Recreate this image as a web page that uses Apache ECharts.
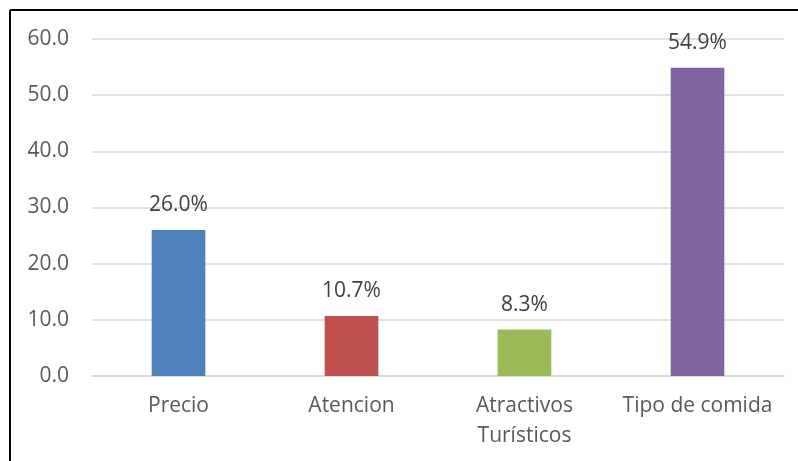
<!DOCTYPE html>
<html>
<head>
<meta charset="utf-8">
<script src="https://cdn.jsdelivr.net/npm/echarts@6/dist/echarts.min.js"></script>
<style>
html,body{margin:0;padding:0;background:#fff;}
#c{width:798px;height:461px;}
</style>
</head>
<body>
<div id="c"></div>
<script>
const categories = ['Precio', 'Atencion', 'Atractivos\nTurísticos', 'Tipo de comida'];
const values = [26.0, 10.7, 8.3, 54.9];
const barColors = ['#4F81BD', '#C0504D', '#9BBB59', '#8064A2'];

const chart = echarts.init(document.getElementById('c'));
chart.setOption({
  backgroundColor: '#ffffff',
  animation: false,
  grid: { left: 92, right: 14, top: 39, bottom: 85 },
  graphic: [
    { type: 'line', shape: { x1: 10, y1: 10, x2: 798, y2: 10 }, style: { stroke: '#000', lineWidth: 2 } },
    { type: 'line', shape: { x1: 10, y1: 10, x2: 10, y2: 461 }, style: { stroke: '#000', lineWidth: 2 } }
  ],
  xAxis: {
    type: 'category',
    data: categories,
    axisLine: { show: true, lineStyle: { color: '#d9d9d9', width: 1.5 } },
    axisTick: { show: false },
    axisLabel: { color: '#595959', fontFamily: 'Open Sans', fontSize: 21, lineHeight: 30, margin: 15, interval: 0 }
  },
  yAxis: {
    type: 'value',
    min: 0, max: 60, interval: 10,
    axisLine: { show: false },
    axisTick: { show: false },
    splitLine: { lineStyle: { color: '#d9d9d9', width: 1.5 } },
    axisLabel: { color: '#595959', fontFamily: 'Open Sans', fontSize: 21, margin: 23,
      formatter: v => v.toFixed(1) }
  },
  series: [{
    type: 'bar',
    barWidth: '31%',
    data: values.map((v, i) => ({ value: v, itemStyle: { color: barColors[i] } })),
    label: {
      show: true, position: 'top', distance: 14,
      color: '#404040', fontFamily: 'Open Sans', fontSize: 21,
      formatter: p => p.value.toFixed(1) + '%'
    }
  }]
});
</script>
</body>
</html>
